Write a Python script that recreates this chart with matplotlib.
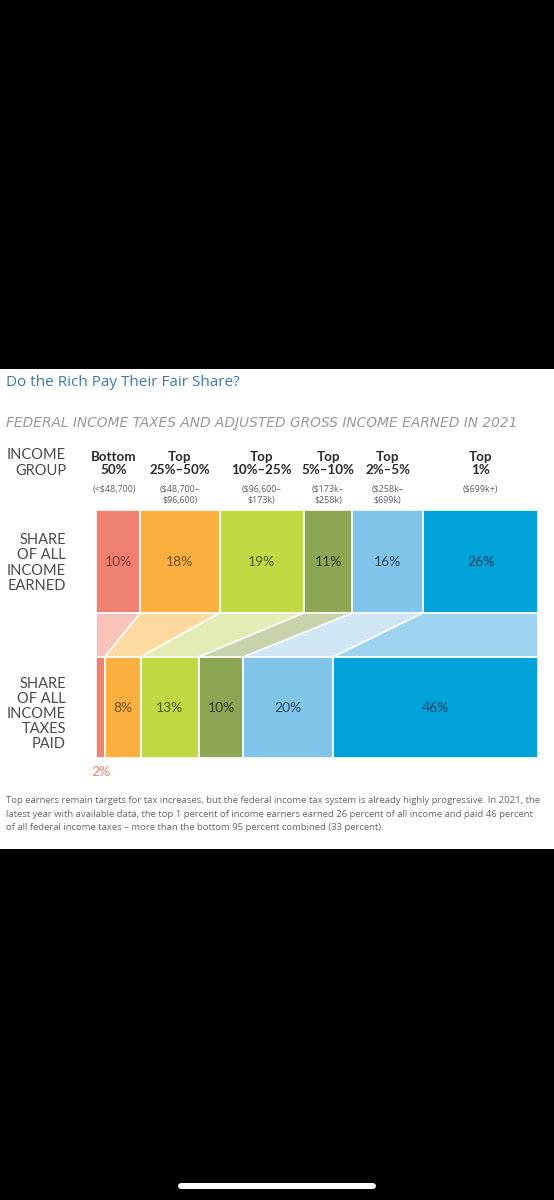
import numpy as np
import matplotlib.pyplot as plt
from matplotlib.patches import Rectangle, Polygon
from matplotlib.lines import Line2D

# data
groups_top = ["Bottom", "Top", "Top", "Top", "Top", "Top"]
groups_bottom = ["50%", "25%–50%", "10%–25%", "5%–10%", "2%–5%", "1%"]
ranges = ["(<$48,700)", "($48,700–\n$96,600)", "($96,600–\n$173k)",
          "($173k–\n$258k)", "($258k–\n$699k)", "($699k+)"]
income_share = [10, 18, 19, 11, 16, 26]
tax_share = [2, 8, 13, 10, 20, 46]

colors = ["#F0806F", "#FCB040", "#C3D944", "#8DA653", "#80C4E9", "#00A3D9"]
light = ["#F9C3B9", "#FED9A0", "#E3ECB2", "#C8D2AB", "#CFE7F5", "#9DD3EE"]
txtcol = ["#8A3A2E", "#7A4F12", "#4B5E14", "#2F3D16", "#24496B", "#0D3F5E"]

W, H = 554, 1200
fig = plt.figure(figsize=(W / 100, H / 100), dpi=100, facecolor="black")

def fx(x):
    return x / W

def fy(y):
    return 1 - y / H

# white panel
fig.patches.append(Rectangle((0, fy(849)), 1, fy(369) - fy(849),
                             transform=fig.transFigure, facecolor="white", zorder=-5))

# bar area (pixel-ish units inside the axes)
ax = fig.add_axes([fx(96), fy(758), fx(538) - fx(96), fy(510) - fy(758)])
ax.set_zorder(3)
ax.patch.set_alpha(0)
ax.set_xlim(0, 100)
ax.set_ylim(0, 248)
ax.axis("off")

top_y0, top_h = 145, 103
bot_y0, bot_h = 0, 101

top = np.array(income_share, float) / sum(income_share) * 100
bot = np.array(tax_share, float) / sum(tax_share) * 100
top_left = np.concatenate([[0], np.cumsum(top)[:-1]])
bot_left = np.concatenate([[0], np.cumsum(bot)[:-1]])

ax.barh(top_y0 + top_h / 2, top, left=top_left, height=top_h, color=colors,
        edgecolor="white", linewidth=1.2)
ax.barh(bot_y0 + bot_h / 2, bot, left=bot_left, height=bot_h, color=colors,
        edgecolor="white", linewidth=1.2)

for i in range(len(top)):
    poly = Polygon([(top_left[i], top_y0), (top_left[i] + top[i], top_y0),
                    (bot_left[i] + bot[i], bot_h), (bot_left[i], bot_h)],
                   closed=True, facecolor=light[i], edgecolor="white", linewidth=1.2)
    ax.add_patch(poly)

for i in range(len(top)):
    ax.text(top_left[i] + top[i] / 2, top_y0 + top_h / 2, f"{income_share[i]}%",
            ha="center", va="center", fontsize=10, color=txtcol[i], family="Lato")
    if i == 0:
        ax.text(bot_left[i] + bot[i] / 2, -14, f"{tax_share[i]}%", ha="center",
                va="center", fontsize=10, color=colors[0], family="Lato")
    else:
        ax.text(bot_left[i] + bot[i] / 2, bot_h / 2, f"{tax_share[i]}%",
                ha="center", va="center", fontsize=10, color=txtcol[i], family="Lato")

# group headers above the bars
for i in range(len(top)):
    xc = top_left[i] + top[i] / 2
    xfig = fx(96) + (fx(538) - fx(96)) * xc / 100
    if i == 0:
        xfig -= fx(4)
    fig.text(xfig, fy(463.5), groups_top[i] + "\n" + groups_bottom[i], ha="center",
             va="center", fontsize=9.6, fontweight="bold", color="#2a2a2a",
             family="Lato", linespacing=1.15)
    fig.text(xfig, fy(484.5), ranges[i], ha="center", va="top", fontsize=6.4,
             color="#5e5e5e", family="Open Sans", linespacing=1.35)

fig.text(fx(66), fy(463), "INCOME\nGROUP", ha="right", va="center", fontsize=10.5,
         color="#4a4a4a", family="Lato", linespacing=1.1)
fig.text(fx(66), fy(563), "SHARE\nOF ALL\nINCOME\nEARNED", ha="right", va="center",
         fontsize=10.5, color="#4a4a4a", family="Lato", linespacing=1.1)
fig.text(fx(66), fy(714), "SHARE\nOF ALL\nINCOME\nTAXES\nPAID", ha="right", va="center",
         fontsize=10.5, color="#4a4a4a", family="Lato", linespacing=1.1)

# titles
fig.text(fx(6), fy(382), "Do the Rich Pay Their Fair Share?", ha="left", va="center",
         fontsize=11, color="#3C78B2", family="Open Sans")
fig.text(fx(6), fy(423), "FEDERAL INCOME TAXES AND ADJUSTED GROSS INCOME EARNED IN 2021",
         ha="left", va="center", fontsize=9.9, color="#999999", style="italic",
         family="DejaVu Sans")

note = ("Top earners remain targets for tax increases, but the federal income tax system is already highly progressive. In 2021, the\n"
        "latest year with available data, the top 1 percent of income earners earned 26 percent of all income and paid 46 percent\n"
        "of all federal income taxes – more than the bottom 95 percent combined (33 percent).")
fig.text(fx(6), fy(796), note, ha="left", va="top", fontsize=6.8, color="#666666",
         family="Open Sans", linespacing=1.65)

# phone home indicator
fig.lines.append(Line2D([fx(181), fx(373)], [fy(1186), fy(1186)], transform=fig.transFigure,
                        color="white", linewidth=4.3, solid_capstyle="round"))

fig.savefig("out.png", dpi=100, facecolor="black")
